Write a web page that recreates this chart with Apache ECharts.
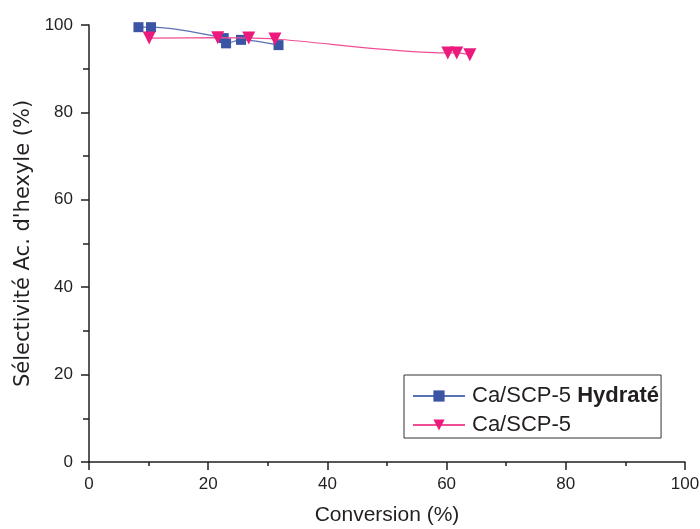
<!DOCTYPE html>
<html>
<head>
<meta charset="utf-8">
<script src="https://cdn.jsdelivr.net/npm/echarts@6/dist/echarts.min.js"></script>
<style>html,body{margin:0;padding:0;background:#fff;}#c{width:700px;height:529px;}</style>
</head>
<body>
<div id="c"></div>
<script>
var seriesNames = ['Ca/SCP-5 Hydraté', 'Ca/SCP-5'];
var hydrateX = [8.3, 10.4, 22.6, 23.0, 25.5, 31.8];
var hydrateY = [99.5, 99.5, 97.0, 95.8, 96.6, 95.4];
var scpX = [10.1, 21.6, 26.8, 31.2, 60.2, 61.7, 63.9];
var scpY = [97.0, 97.1, 97.0, 96.8, 93.6, 93.6, 93.2];
var xTicks = [0, 20, 40, 60, 80, 100];
var yTicks = [0, 20, 40, 60, 80, 100];

function pairs(xs, ys) { return xs.map(function (x, i) { return [x, ys[i]]; }); }

var font = 'Liberation Sans, Arial, sans-serif';
var ink = '#231f20';
var chart = echarts.init(document.getElementById('c'));
chart.setOption({
  animation: false,
  backgroundColor: '#fff',
  grid: { left: 89, right: 15, top: 25, bottom: 67, containLabel: false, outerBoundsMode: 'none' },
  xAxis: {
    type: 'value', min: xTicks[0], max: xTicks[xTicks.length - 1], interval: 20,
    name: 'Conversion (%)', nameLocation: 'middle', nameGap: 43,
    nameTextStyle: { fontFamily: font, fontSize: 21, color: ink },
    axisLine: { show: true, lineStyle: { color: ink, width: 1.5 } },
    axisTick: { show: true, length: 8, lineStyle: { color: ink, width: 1.5 } },
    minorTick: { show: true, splitNumber: 2, length: 4, lineStyle: { color: ink, width: 1.5 } },
    axisLabel: { fontFamily: font, fontSize: 17, color: ink, margin: 14 },
    splitLine: { show: false }
  },
  yAxis: {
    type: 'value', min: yTicks[0], max: yTicks[yTicks.length - 1], interval: 20,
    name: "Sélectivité Ac. d'hexyle (%)", nameLocation: 'middle', nameGap: 54,
    nameTextStyle: { fontFamily: 'DejaVu Sans, sans-serif', fontSize: 21, color: ink },
    axisLine: { show: true, lineStyle: { color: ink, width: 1.5 } },
    axisTick: { show: true, length: 8, lineStyle: { color: ink, width: 1.5 } },
    minorTick: { show: true, splitNumber: 2, length: 6, lineStyle: { color: ink, width: 1.5 } },
    axisLabel: { fontFamily: font, fontSize: 17, color: ink, margin: 16 },
    splitLine: { show: false }
  },
  legend: {
    orient: 'vertical', left: 404, top: 375,
    padding: [10, 2, 2, 8], itemGap: 7,
    itemWidth: 52, itemHeight: 14,
    borderColor: '#333', borderWidth: 1, borderRadius: 0,
    backgroundColor: '#fff',
    data: seriesNames,
    formatter: function (n) {
      return n === seriesNames[0] ? '{n|Ca/SCP-5 }{b|Hydraté}' : '{n|Ca/SCP-5}';
    },
    textStyle: {
      fontFamily: font, fontSize: 22, color: ink, padding: [0, 0, 0, 2],
      rich: {
        n: { fontFamily: font, fontSize: 22, color: ink },
        b: { fontFamily: font, fontSize: 22, color: ink, fontWeight: 'bold' }
      }
    }
  },
  series: [
    {
      name: seriesNames[0], type: 'line', smooth: 0.3,
      data: pairs(hydrateX, hydrateY),
      symbol: 'rect', symbolSize: 10,
      itemStyle: { color: '#3b54a4' },
      lineStyle: { color: '#5a70b5', width: 1.2 },
      clip: false, z: 2
    },
    {
      name: seriesNames[1], type: 'line', smooth: 0.3,
      data: pairs(scpX, scpY),
      symbol: 'triangle', symbolRotate: 180, symbolSize: 13,
      itemStyle: { color: '#ec1a7d' },
      lineStyle: { color: '#ef4e96', width: 1.2 },
      clip: false, z: 3
    }
  ]
});
</script>
</body>
</html>
